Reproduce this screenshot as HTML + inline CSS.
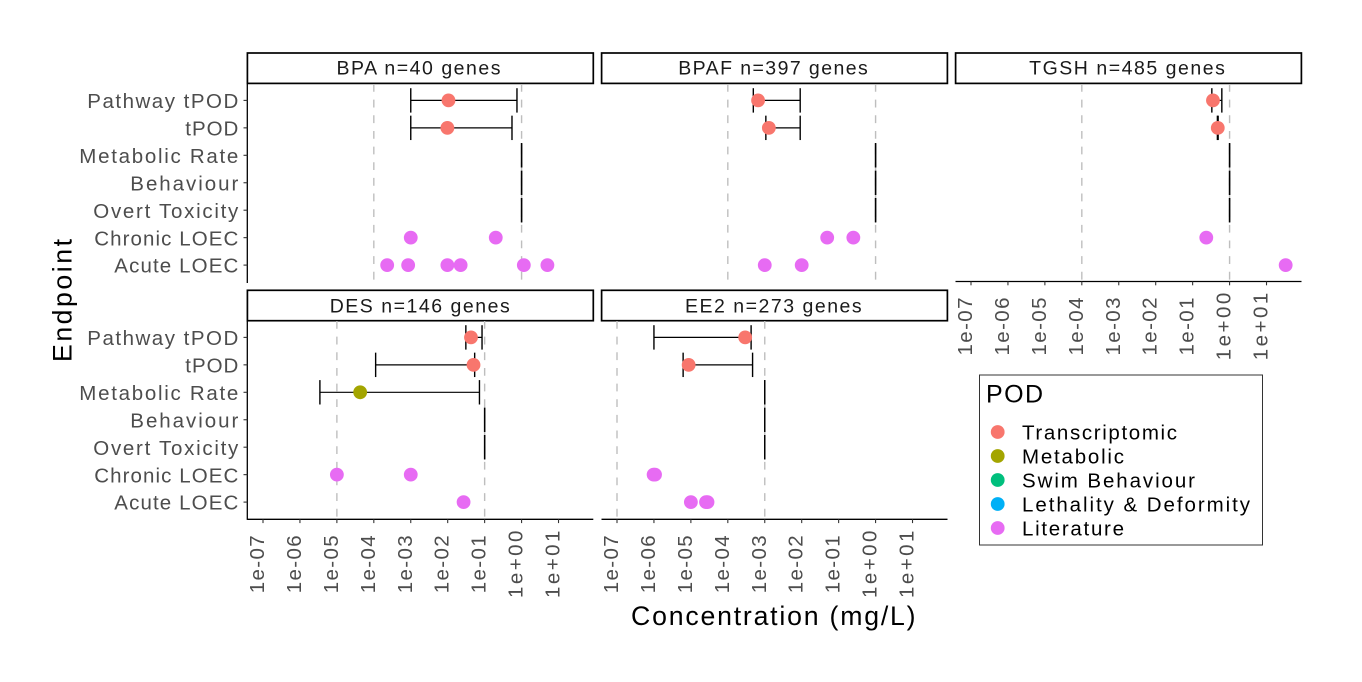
<!DOCTYPE html>
<html lang="en">
<head>
<meta charset="utf-8">
<title>POD by endpoint</title>
<style>
html,body{margin:0;padding:0;background:#fff;width:1362px;height:682px;overflow:hidden}
svg{display:block;font-family:"Liberation Sans",sans-serif}
.strip-box{fill:#fff;stroke:#000;stroke-width:1.7}
.strip-text{font-size:19.5px;fill:#1a1a1a;text-anchor:middle}
.tick-text{font-size:20.5px;fill:#4d4d4d}
.axis-title{font-size:26.67px;fill:#000}
.legend-text{font-size:20.5px;fill:#000}
</style>
</head>
<body>
<svg id="chart" xmlns="http://www.w3.org/2000/svg" width="1362" height="682" viewBox="0 0 1362 682">
  <rect x="0" y="0" width="1362" height="682" fill="#fff"/>

  <g>
    <rect class="strip-box" x="247.4" y="53" width="345.9" height="30.4"/>
    <text class="strip-text" x="418.5" y="74.7" textLength="164" lengthAdjust="spacing">BPA n=40 genes</text>
  </g>
  <g>
    <rect class="strip-box" x="601.6" y="53" width="345.8" height="30.4"/>
    <text class="strip-text" x="773" y="74.7" textLength="189.5" lengthAdjust="spacing">BPAF n=397 genes</text>
  </g>
  <g>
    <rect class="strip-box" x="955.6" y="53" width="345.8" height="30.4"/>
    <text class="strip-text" x="1127" y="74.7" textLength="195.7" lengthAdjust="spacing">TGSH n=485 genes</text>
  </g>
  <g>
    <rect class="strip-box" x="247.4" y="290.3" width="345.9" height="30.4"/>
    <text class="strip-text" x="419.7" y="312.7" textLength="180" lengthAdjust="spacing">DES n=146 genes</text>
  </g>
  <g>
    <rect class="strip-box" x="601.6" y="290.3" width="345.8" height="30.4"/>
    <text class="strip-text" x="773.3" y="312.7" textLength="176.7" lengthAdjust="spacing">EE2 n=273 genes</text>
  </g>

  <g id="panels"></g>

  <text class="axis-title" transform="translate(71.5,300.5) rotate(-90)" text-anchor="middle" textLength="123" lengthAdjust="spacing">Endpoint</text>
  <text class="axis-title" x="773.3" y="625" text-anchor="middle" textLength="284.5" lengthAdjust="spacing">Concentration (mg/L)</text>

  <g>
    <rect x="979.5" y="375" width="283" height="170" fill="#fff" stroke="#333" stroke-width="1"/>
    <text x="986" y="402.5" font-size="25" textLength="57" lengthAdjust="spacing" fill="#000">POD</text>
    <g>
      <circle cx="997.7" cy="432" r="6.9" fill="#F8766D"/>
      <text class="legend-text" x="1022" y="439.5" textLength="155" lengthAdjust="spacing">Transcriptomic</text>
    </g>
    <g>
      <circle cx="997.7" cy="456" r="6.9" fill="#A3A500"/>
      <text class="legend-text" x="1022" y="463.5" textLength="102" lengthAdjust="spacing">Metabolic</text>
    </g>
    <g>
      <circle cx="997.7" cy="480" r="6.9" fill="#00BF7D"/>
      <text class="legend-text" x="1022" y="487.5" textLength="173" lengthAdjust="spacing">Swim Behaviour</text>
    </g>
    <g>
      <circle cx="997.7" cy="504" r="6.9" fill="#00B0F6"/>
      <text class="legend-text" x="1022" y="511.5" textLength="228" lengthAdjust="spacing">Lethality &amp; Deformity</text>
    </g>
    <g>
      <circle cx="997.7" cy="528" r="6.9" fill="#E76BF3"/>
      <text class="legend-text" x="1022" y="535.5" textLength="102" lengthAdjust="spacing">Literature</text>
    </g>
  </g>
</svg>

<script>
// Categories and tick labels
const endpoints = ["Pathway tPOD", "tPOD", "Metabolic Rate", "Behaviour", "Overt Toxicity", "Chronic LOEC", "Acute LOEC"];
const tickValues = [1e-7, 1e-6, 1e-5, 1e-4, 1e-3, 1e-2, 1e-1, 1, 10];
const tickLabels = ["1e-07", "1e-06", "1e-05", "1e-04", "1e-03", "1e-02", "1e-01", "1e+00", "1e+01"];

// Concentrations in mg/L. Rows follow the order of endpoints (first five rows).
const bpaLow = [0.001, 0.001, 1, 1, 1];
const bpaHigh = [0.75, 0.55, 1, 1, 1];
const bpaPod = [0.0105, 0.0098, null, null, null];
const bpaChronic = [0.001, 0.2];
const bpaAcute = [0.00023, 0.00085, 0.0098, 0.0224, 1.15, 5.0];
const bpaGuides = [1e-4, 1];

const bpafLow = [0.00049, 0.00107, 1, 1, 1];
const bpafHigh = [0.0091, 0.0091, 1, 1, 1];
const bpafPod = [0.00066, 0.00129, null, null, null];
const bpafChronic = [0.049, 0.25];
const bpafAcute = [0.001, 0.01];
const bpafGuides = [1e-4, 1];

const tgshLow = [0.331, 0.468, 1, 1, 1];
const tgshHigh = [0.617, 0.49, 1, 1, 1];
const tgshPod = [0.355, 0.479, null, null, null];
const tgshChronic = [0.234];
const tgshAcute = [33];
const tgshGuides = [1e-4, 1];

const desLow = [0.031, 0.000112, 0.00000347, 0.1, 0.1];
const desHigh = [0.085, 0.0537, 0.0724, 0.1, 0.1];
const desPod = [0.0427, 0.05, 0.0000427, null, null];
const desChronic = [0.00001, 0.001];
const desAcute = [0.0269];
const desGuides = [1e-5, 0.1];

const ee2Low = [0.000001, 0.00000617, 0.001, 0.001, 0.001];
const ee2High = [0.000427, 0.000468, 0.001, 0.001, 0.001];
const ee2Pod = [0.000295, 0.0000087, null, null, null];
const ee2Chronic = [0.00000098, 0.00000107];
const ee2Acute = [0.00001, 0.0000257, 0.0000282];
const ee2Guides = [1e-7, 0.001];

// Drawing
const SVG_NS = "http://www.w3.org/2000/svg";
const podColours = ["#F8766D", "#F8766D", "#A3A500", "#00BF7D", "#00B0F6", "#E76BF3", "#E76BF3"];
const DECADE = 36.94;
const ROW_STEP = 27.45;
const POINT_R = 6.9;
const CAP_HALF = 12.2;

// Rendered pixel width of each y-axis label (layout only)
function endpointLabelWidth(name) {
  if (name === "Pathway tPOD") return 151;
  if (name === "tPOD") return 53;
  if (name === "Metabolic Rate") return 159;
  if (name === "Behaviour") return 108;
  if (name === "Overt Toxicity") return 145;
  if (name === "Chronic LOEC") return 144;
  return 124;
}

function make(parent, tag, attrs) {
  const el = document.createElementNS(SVG_NS, tag);
  for (const k in attrs) el.setAttribute(k, attrs[k]);
  parent.appendChild(el);
  return el;
}

function drawPanel(p) {
  const x = v => p.origin + (Math.log10(v) + 7) * DECADE;
  const y = i => p.firstRow + i * ROW_STEP;

  const g = make(document.getElementById("panels"), "g", {});
  
  

  p.guides.forEach(v => {
    const guide = make(g, "line", {x1: x(v), x2: x(v), y1: p.top, y2: p.bottom, stroke: "#bebebe", "stroke-width": 1.4, "stroke-dasharray": "7.8 7.85"});
    
    
  });

  p.low.forEach((lo, i) => {
    const hi = p.high[i];
    const bar = make(g, "g", {stroke: "#000", "stroke-width": 1.2, fill: "none"});
    
    
    const span = make(bar, "line", {x1: x(lo), x2: x(hi), y1: y(i), y2: y(i)});
    
    
    const capLow = make(bar, "line", {x1: x(lo), x2: x(lo), y1: y(i) - CAP_HALF, y2: y(i) + CAP_HALF, "stroke-width": 1.4});
    
    
    const capHigh = make(bar, "line", {x1: x(hi), x2: x(hi), y1: y(i) - CAP_HALF, y2: y(i) + CAP_HALF, "stroke-width": 1.4});
    
    
  });

  p.pod.forEach((v, i) => {
    if (v === null) return;
    const pt = make(g, "circle", {cx: x(v), cy: y(i), r: POINT_R, fill: podColours[i]});
    
    
  });

  p.chronic.forEach(v => {
    const pt = make(g, "circle", {cx: x(v), cy: y(5), r: POINT_R, fill: podColours[5]});
    
    
  });

  p.acute.forEach(v => {
    const pt = make(g, "circle", {cx: x(v), cy: y(6), r: POINT_R, fill: podColours[6]});
    
    
  });

  if (p.yAxis) {
    const axis = make(g, "line", {x1: p.left, x2: p.left, y1: p.top, y2: p.bottom + (p.xAxis ? 0.6 : 0), stroke: "#000", "stroke-width": 1.3});
    
    
    endpoints.forEach((name, i) => {
      const tick = make(g, "line", {x1: p.left - 3.8, x2: p.left, y1: y(i), y2: y(i), stroke: "#333", "stroke-width": 1.1});
      
      
      const label = make(g, "text", {x: p.left - 9, y: y(i) + 7.6, "text-anchor": "end", class: "tick-text", textLength: endpointLabelWidth(name), lengthAdjust: "spacing"});
      
      
      label.textContent = name;
    });
  }

  if (p.xAxis) {
    const axis = make(g, "line", {x1: p.left, x2: p.left + 346, y1: p.bottom, y2: p.bottom, stroke: "#000", "stroke-width": 1.3});
    
    
    tickValues.forEach((v, i) => {
      const tick = make(g, "line", {x1: x(v), x2: x(v), y1: p.bottom, y2: p.bottom + 3.8, stroke: "#333", "stroke-width": 1.1});
      
      
      const label = make(g, "text", {transform: "translate(" + (x(v) + 1) + "," + (p.bottom + 45) + ") rotate(-90)", "text-anchor": "middle", class: "tick-text", textLength: tickLabels[i].includes("+") ? 67.5 : 58, lengthAdjust: "spacing"});
      
      
      label.textContent = tickLabels[i];
    });
  }
}

drawPanel({id: "bpa", left: 247.3, origin: 263, top: 84, bottom: 283, firstRow: 100.4, yAxis: true, xAxis: false,
  low: bpaLow, high: bpaHigh, pod: bpaPod, chronic: bpaChronic, acute: bpaAcute, guides: bpaGuides});
drawPanel({id: "bpaf", left: 601.5, origin: 617, top: 84, bottom: 283, firstRow: 100.4, yAxis: false, xAxis: false,
  low: bpafLow, high: bpafHigh, pod: bpafPod, chronic: bpafChronic, acute: bpafAcute, guides: bpafGuides});
drawPanel({id: "tgsh", left: 955.5, origin: 971, top: 84, bottom: 281.5, firstRow: 100.4, yAxis: false, xAxis: true,
  low: tgshLow, high: tgshHigh, pod: tgshPod, chronic: tgshChronic, acute: tgshAcute, guides: tgshGuides});
drawPanel({id: "des", left: 247.3, origin: 263, top: 321, bottom: 519.3, firstRow: 337.4, yAxis: true, xAxis: true,
  low: desLow, high: desHigh, pod: desPod, chronic: desChronic, acute: desAcute, guides: desGuides});
drawPanel({id: "ee2", left: 601.5, origin: 617, top: 321, bottom: 519.3, firstRow: 337.4, yAxis: false, xAxis: true,
  low: ee2Low, high: ee2High, pod: ee2Pod, chronic: ee2Chronic, acute: ee2Acute, guides: ee2Guides});
</script>
</body>
</html>
